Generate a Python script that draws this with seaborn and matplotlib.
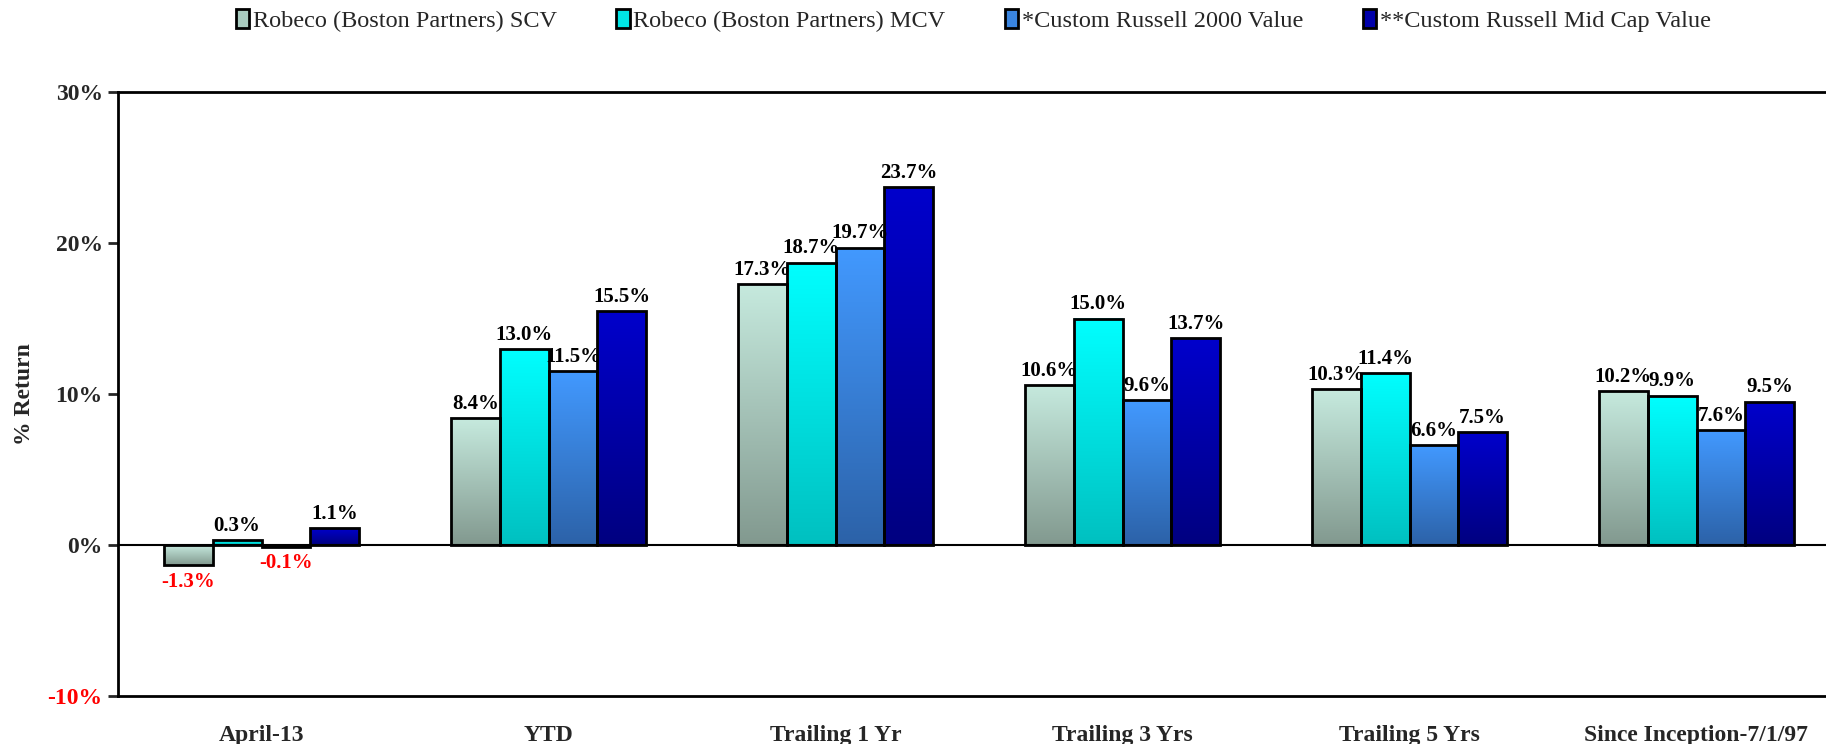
import numpy as np
import pandas as pd
import seaborn as sns
import matplotlib.pyplot as plt
from matplotlib.patches import Patch
from matplotlib.colors import LinearSegmentedColormap

# Chart data
categories = ['April-13', 'YTD', 'Trailing 1 Yr', 'Trailing 3 Yrs', 'Trailing 5 Yrs', 'Since Inception-7/1/97']
series = ['Robeco (Boston Partners) SCV', 'Robeco (Boston Partners) MCV',
          '*Custom Russell 2000 Value', '**Custom Russell Mid Cap Value']
scv = [-1.3, 8.4, 17.3, 10.6, 10.3, 10.2]
mcv = [0.3, 13.0, 18.7, 15.0, 11.4, 9.9]
r2000v = [-0.1, 11.5, 19.7, 9.6, 6.6, 7.6]
rmcv = [1.1, 15.5, 23.7, 13.7, 7.5, 9.5]
y_ticks = [-10, 0, 10, 20, 30]

# gradient colours (top, bottom) per series
gradients = [('#c6eade', '#82998f'), ('#00ffff', '#00c0c0'),
             ('#4299ff', '#2c62a8'), ('#0000cc', '#000080')]
legend_colors = ['#a8cbbf', '#00e6e6', '#3a85e0', '#0000aa']

rows = []
for name, vals in zip(series, [scv, mcv, r2000v, rmcv]):
    for cat, v in zip(categories, vals):
        rows.append({'Period': cat, 'Series': name, 'Return': v})
df = pd.DataFrame(rows)

sns.set_style('white')
plt.rcParams['font.family'] = ['Liberation Serif', 'DejaVu Serif']

fig = plt.figure(figsize=(18.26, 7.44), dpi=100)
ax = fig.add_axes([118 / 1826, 1 - 696 / 744, 1722 / 1826, 604 / 744])

sns.barplot(data=df, x='Period', y='Return', hue='Series', order=categories,
            hue_order=series, width=0.68, palette=legend_colors,
            edgecolor='black', linewidth=2, ax=ax, legend=False)

# vertical gradient fills clipped to each bar
grad = np.linspace(0, 1, 256).reshape(-1, 1)
for container, (top, bot) in zip(ax.containers, gradients):
    cmap = LinearSegmentedColormap.from_list('g', [top, bot])
    for bar in container:
        x, y = bar.get_x(), bar.get_y()
        w, h = bar.get_width(), bar.get_height()
        y0, y1 = min(y, y + h), max(y, y + h)
        im = ax.imshow(grad, cmap=cmap, aspect='auto', origin='upper',
                       extent=[x, x + w, y0, y1], zorder=2, interpolation='bilinear')
        im.set_clip_path(bar)
        bar.set_facecolor('none')
        bar.set_zorder(3)

ax.set_xlim(-0.5, 5.5)
ax.set_ylim(-10, 30)

# data labels
for container in ax.containers:
    for bar in container:
        h = bar.get_height()
        xc = bar.get_x() + bar.get_width() / 2
        if h >= 0:
            ax.annotate(f'{h:.1f}%', (xc, h), xytext=(0, 3), textcoords='offset points',
                        ha='center', va='bottom', fontsize=15, fontweight='bold',
                        color='black', zorder=5)
        else:
            ax.annotate(f'{h:.1f}%', (xc, h), xytext=(0, -5), textcoords='offset points',
                        ha='center', va='top', fontsize=15, fontweight='bold',
                        color='red', zorder=5)

ax.axhline(0, color='black', lw=1.5, zorder=4)

ax.set_yticks(y_ticks)
ax.set_yticklabels([f'{t}%' for t in y_ticks], fontsize=17, fontweight='bold')
ax.get_yticklabels()[0].set_color('red')
ax.tick_params(axis='y', length=7, width=2, direction='out', pad=4, left=True)
ax.tick_params(axis='x', length=0, pad=21)
ax.set_xticklabels(categories, fontsize=17, fontweight='bold')
ax.set_xlabel('')
ax.set_ylabel('% Return', fontsize=17, fontweight='bold')
ax.yaxis.set_label_coords(-0.048, 0.5)

for side in ['left', 'bottom', 'top']:
    ax.spines[side].set_visible(True)
    ax.spines[side].set_color('black')
    ax.spines[side].set_linewidth(2)
ax.spines['right'].set_visible(False)

handles = [Patch(facecolor=c, edgecolor='black', linewidth=2) for c in legend_colors]
fig.legend(handles, series, loc='center', bbox_to_anchor=(0.533, 0.972), ncol=4,
           frameon=False, fontsize=17.5, handlelength=0.55, handleheight=0.8,
           handletextpad=0.15, columnspacing=2.45)

fig.savefig('out.png', dpi=100)
